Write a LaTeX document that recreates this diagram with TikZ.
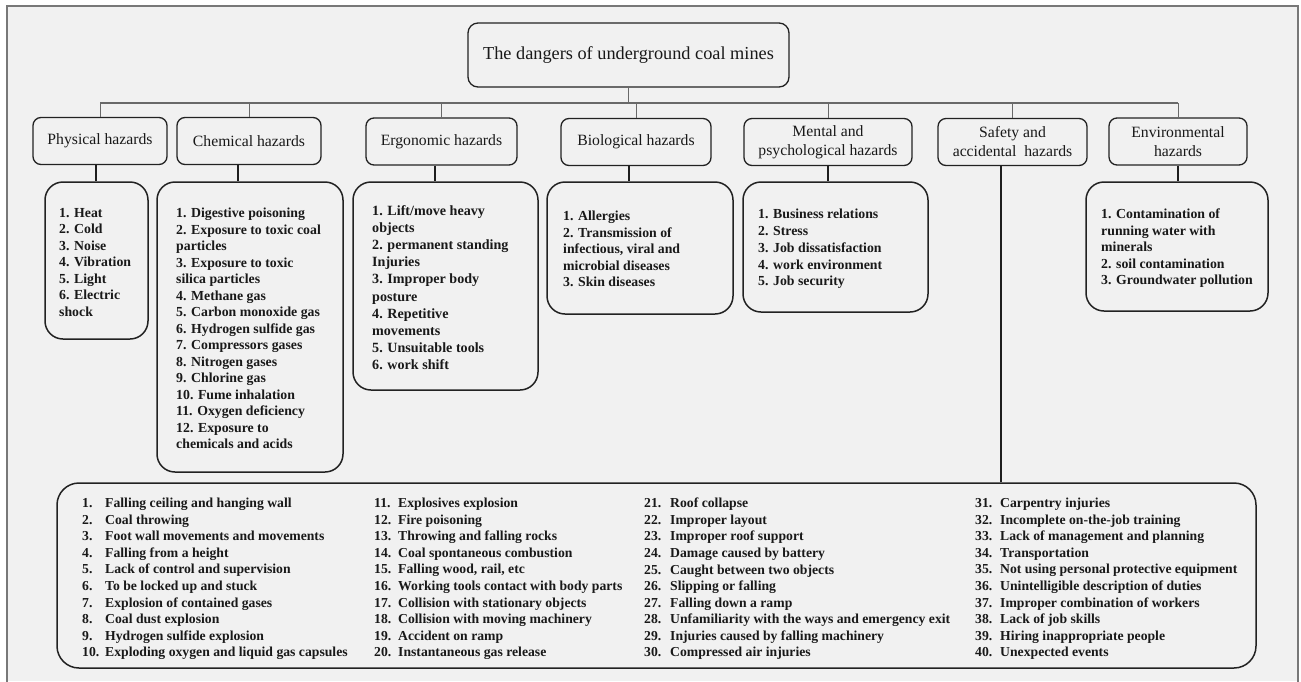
\documentclass[tikz,border=0pt]{standalone}
\usepackage{fontspec}
\setmainfont{Liberation Serif}
\definecolor{bgcol}{RGB}{241,241,241}
\definecolor{boxcol}{RGB}{34,34,34}
\definecolor{txtcol}{RGB}{25,25,25}
\definecolor{buscol}{RGB}{105,105,105}
\definecolor{linkcol}{RGB}{30,30,30}
\definecolor{framecol}{RGB}{120,120,120}
\newcommand{\nb}[2]{\makebox[#1][l]{#2}}
\begin{document}
\begin{tikzpicture}[x=1pt,y=-1pt,
  box/.style={draw=boxcol, line width=1.3pt, rounded corners=8pt, inner sep=0pt, text=txtcol},
  catbox/.style={box, font=\fontsize{15.7}{19}\selectfont, align=center, minimum height=47pt},
  listbox/.style={draw=boxcol, line width=1.5pt, rounded corners=18pt, inner sep=0pt},
  listtext/.style={anchor=north west, inner sep=0pt, align=left, text=txtcol, font=\fontsize{13.8}{16.5}\selectfont\bfseries},
  bus/.style={draw=buscol, line width=1.1pt},
  link/.style={draw=linkcol, line width=1.8pt}]
\useasboundingbox (0,0) rectangle (1301,681);
\fill[white] (0,0) rectangle (1301,681);
\fill[bgcol] (7,6) rectangle (1298,681);
\draw[framecol, line width=1.2pt] (7,690) -- (7,6) -- (1298,6) -- (1298,690);

% title
\node[box, rounded corners=10pt, minimum width=321pt, minimum height=64pt, font=\fontsize{18.3}{22}\selectfont] (title) at (628.5,55) {The dangers of underground coal mines};

% categories
\node[catbox, minimum width=134pt] (phys) at (100,141) {Physical hazards};
\node[catbox, minimum width=144pt] (chem) at (249,141) {Chemical hazards};
\node[catbox, minimum width=151pt] (ergo) at (441.5,141.5) {Ergonomic hazards};
\node[catbox, minimum width=150pt] (bio) at (636,142) {Biological hazards};
\node[catbox, minimum width=168pt] (ment) at (828,142) {Mental and\\psychological hazards};
\node[catbox, minimum width=149pt] (safe) at (1012.5,142) {Safety and\\accidental\ \ hazards};
\node[catbox, minimum width=138pt] (env) at (1178,141.5) {Environmental\\hazards};

% bus
\coordinate (busL) at (100,103);
\coordinate (busR) at (1178,103);
\draw[bus] (title.south) -- (title.south |- busL);
\draw[bus] (busL) -- (busR);
\foreach \n in {phys,chem,ergo,bio,ment,safe,env}{
  \draw[bus, line width=0.9pt] (\n.north |- busL) -- (\n.north);
}

% list boxes
\node[listbox, minimum width=103pt, minimum height=157pt] (physlist) at (96.5,260.5) {};
\node[listbox, minimum width=186pt, minimum height=290pt] (chemlist) at (250,327) {};
\node[listbox, minimum width=185pt, minimum height=208pt] (ergolist) at (445.5,286) {};
\node[listbox, minimum width=186pt, minimum height=132pt] (biolist) at (640,248) {};
\node[listbox, minimum width=185pt, minimum height=130pt] (mentlist) at (835.5,247) {};
\node[listbox, minimum width=182pt, minimum height=129pt] (envlist) at (1177,246.5) {};
\node[listbox, rounded corners=22pt, minimum width=1199pt, minimum height=185pt] (safelist) at (656.5,575.5) {};

% connectors
\draw[link] ([xshift=-4pt]phys.south) -- ([xshift=-4pt]phys.south |- physlist.north);
\draw[link] ([xshift=-11pt]chem.south) -- ([xshift=-11pt]chem.south |- chemlist.north);
\draw[link] ([xshift=-6.5pt]ergo.south) -- ([xshift=-6.5pt]ergo.south |- ergolist.north);
\draw[link] ([xshift=-7pt]bio.south) -- ([xshift=-7pt]bio.south |- biolist.north);
\draw[link] (ment.south) -- (ment.south |- mentlist.north);
\draw[link] ([xshift=-11.5pt]safe.south) -- ([xshift=-11.5pt]safe.south |- safelist.north);
\draw[link] (env.south) -- (env.south |- envlist.north);

% list texts
\node[listtext] (physt) at (59,208) {1. Heat\\2. Cold\\3. Noise\\4. Vibration\\5. Light\\6. Electric\\shock};
\node[listtext] (chemt) at (176,208) {1. Digestive poisoning\\2. Exposure to toxic coal\\particles\\3. Exposure to toxic\\silica particles\\4. Methane gas\\5. Carbon monoxide gas\\6. Hydrogen sulfide gas\\7. Compressors gases\\8. Nitrogen gases\\9. Chlorine gas\\10. Fume inhalation\\11. Oxygen deficiency\\12. Exposure to\\chemicals and acids};
\node[listtext, font=\fontsize{14.1}{17.2}\selectfont\bfseries] (ergot) at (372,205) {1. Lift/move heavy\\objects\\2. permanent standing\\Injuries\\3. Improper body\\posture\\4. Repetitive\\movements\\5. Unsuitable tools\\6. work shift};
\node[listtext] (biot) at (563,211) {1. Allergies\\2. Transmission of\\infectious, viral and\\microbial diseases\\3. Skin diseases};
\node[listtext, font=\fontsize{13.8}{16.75}\selectfont\bfseries] (mentt) at (758,209) {1. Business relations\\2. Stress\\3. Job dissatisfaction\\4. work environment\\5. Job security};
\node[listtext] (envt) at (1101,209) {1. Contamination of\\running water with\\minerals\\2. soil contamination\\3. Groundwater pollution};

% bottom columns
\node[listtext, font=\fontsize{13.7}{16.55}\selectfont\bfseries] (c1) at (82,498) {%
\nb{23pt}{1.}Falling ceiling and hanging wall\\
\nb{23pt}{2.}Coal throwing\\
\nb{23pt}{3.}Foot wall movements and movements\\
\nb{23pt}{4.}Falling from a height\\
\nb{23pt}{5.}Lack of control and supervision\\
\nb{23pt}{6.}To be locked up and stuck\\
\nb{23pt}{7.}Explosion of contained gases\\
\nb{23pt}{8.}Coal dust explosion\\
\nb{23pt}{9.}Hydrogen sulfide explosion\\
\nb{23pt}{10.}Exploding oxygen and liquid gas capsules};
\node[listtext, font=\fontsize{13.7}{16.55}\selectfont\bfseries] (c2) at (374,498) {%
\nb{24pt}{11.}Explosives explosion\\
\nb{24pt}{12.}Fire poisoning\\
\nb{24pt}{13.}Throwing and falling rocks\\
\nb{24pt}{14.}Coal spontaneous combustion\\
\nb{24pt}{15.}Falling wood, rail, etc\\
\nb{24pt}{16.}Working tools contact with body parts\\
\nb{24pt}{17.}Collision with stationary objects\\
\nb{24pt}{18.}Collision with moving machinery\\
\nb{24pt}{19.}Accident on ramp\\
\nb{24pt}{20.}Instantaneous gas release};
\node[listtext, font=\fontsize{13.7}{16.55}\selectfont\bfseries] (c3) at (644,498) {%
\nb{26pt}{21.}Roof collapse\\
\nb{26pt}{22.}Improper layout\\
\nb{26pt}{23.}Improper roof support\\
\nb{26pt}{24.}Damage caused by battery\\
\nb{26pt}{25.}Caught between two objects\\
\nb{26pt}{26.}Slipping or falling\\
\nb{26pt}{27.}Falling down a ramp\\
\nb{26pt}{28.}Unfamiliarity with the ways and emergency exit\\
\nb{26pt}{29.}Injuries caused by falling machinery\\
\nb{26pt}{30.}Compressed air injuries};
\node[listtext, font=\fontsize{13.7}{16.55}\selectfont\bfseries] (c4) at (975,498) {%
\nb{25pt}{31.}Carpentry injuries\\
\nb{25pt}{32.}Incomplete on-the-job training\\
\nb{25pt}{33.}Lack of management and planning\\
\nb{25pt}{34.}Transportation\\
\nb{25pt}{35.}Not using personal protective equipment\\
\nb{25pt}{36.}Unintelligible description of duties\\
\nb{25pt}{37.}Improper combination of workers\\
\nb{25pt}{38.}Lack of job skills\\
\nb{25pt}{39.}Hiring inappropriate people\\
\nb{25pt}{40.}Unexpected events};
\end{tikzpicture}
\end{document}
